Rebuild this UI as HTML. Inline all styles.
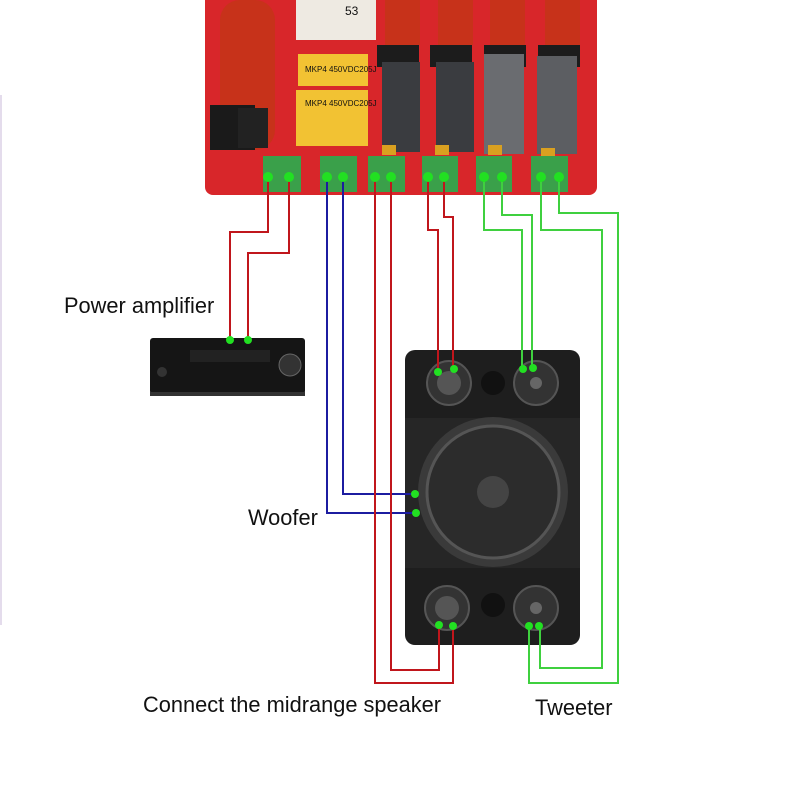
<!DOCTYPE html>
<html><head><style>
html,body{margin:0;padding:0;background:#fff;}
svg{display:block;}
text{font-family:"Liberation Sans",Arial,sans-serif;fill:#111;}
</style></head><body>
<svg width="800" height="800" viewBox="0 0 800 800" xmlns="http://www.w3.org/2000/svg">
<line x1="1" y1="95" x2="1" y2="625" stroke="#c9b8d8" stroke-width="1"/>
<rect x="205" y="-10" width="392" height="205" rx="8" fill="#d8262a"/>
<rect x="220" y="0" width="55" height="150" rx="20" fill="#c7321a"/>
<rect x="210" y="105" width="45" height="45" fill="#1a1a1a"/>
<rect x="238" y="108" width="30" height="40" fill="#222"/>
<rect x="296" y="0" width="80" height="40" fill="#eeeae2"/>
<text x="345" y="15" font-size="12">53</text>
<rect x="298" y="54" width="70" height="32" fill="#f2c233"/>
<rect x="296" y="90" width="72" height="56" fill="#f2c233"/>
<text x="305" y="72" font-size="8" fill="#444">MKP4 450VDC205J</text>
<text x="305" y="106" font-size="8" fill="#444">MKP4 450VDC205J</text>
<rect x="385" y="0" width="35" height="45" fill="#c7321a"/>
<rect x="438" y="0" width="35" height="45" fill="#c7321a"/>
<rect x="490" y="0" width="35" height="45" fill="#c7321a"/>
<rect x="545" y="0" width="35" height="45" fill="#c7321a"/>
<rect x="377" y="45" width="42" height="22" fill="#1c1c1c"/>
<rect x="430" y="45" width="42" height="22" fill="#1c1c1c"/>
<rect x="484" y="45" width="42" height="22" fill="#1c1c1c"/>
<rect x="538" y="45" width="42" height="22" fill="#1c1c1c"/>
<rect x="382" y="62" width="38" height="90" fill="#3a3c40"/>
<rect x="436" y="62" width="38" height="90" fill="#3a3c40"/>
<rect x="484" y="54" width="40" height="100" fill="#6a6c70"/>
<rect x="537" y="56" width="40" height="98" fill="#5c5e62"/>
<rect x="382" y="145" width="14" height="10" fill="#d9a020"/>
<rect x="435" y="145" width="14" height="10" fill="#d9a020"/>
<rect x="488" y="145" width="14" height="10" fill="#d9a020"/>
<rect x="541" y="148" width="14" height="10" fill="#d9a020"/>
<g fill="#3aa04a">
<rect x="263" y="156" width="38" height="36"/>
<rect x="320" y="156" width="37" height="36"/>
<rect x="368" y="156" width="37" height="36"/>
<rect x="422" y="156" width="36" height="36"/>
<rect x="476" y="156" width="36" height="36"/>
<rect x="531" y="156" width="37" height="36"/>
</g>
<rect x="150" y="338" width="155" height="56" rx="3" fill="#151515"/>
<rect x="150" y="392" width="155" height="4" fill="#333"/>
<circle cx="290" cy="365" r="11" fill="#333" stroke="#666"/>
<circle cx="162" cy="372" r="5" fill="#333"/>
<rect x="190" y="350" width="80" height="12" fill="#222"/>
<rect x="405" y="350" width="175" height="295" rx="10" fill="#1e1e1e"/>
<rect x="405" y="418" width="175" height="150" fill="#262626"/>
<circle cx="449" cy="383" r="22" fill="#333" stroke="#555" stroke-width="2"/>
<circle cx="449" cy="383" r="12" fill="#555"/>
<circle cx="536" cy="383" r="22" fill="#333" stroke="#555" stroke-width="2"/>
<circle cx="536" cy="383" r="6" fill="#666"/>
<circle cx="493" cy="383" r="12" fill="#111"/>
<circle cx="493" cy="492" r="75" fill="#3a3a3a"/>
<circle cx="493" cy="492" r="66" fill="#2c2c2c" stroke="#555" stroke-width="3"/>
<circle cx="493" cy="492" r="16" fill="#444"/>
<circle cx="447" cy="608" r="22" fill="#333" stroke="#555" stroke-width="2"/>
<circle cx="447" cy="608" r="12" fill="#555"/>
<circle cx="536" cy="608" r="22" fill="#333" stroke="#555" stroke-width="2"/>
<circle cx="536" cy="608" r="6" fill="#666"/>
<circle cx="493" cy="605" r="12" fill="#111"/>
<g fill="none" stroke-width="2">
<polyline stroke="#c0161c" points="268,177 268,232 230,232 230,340"/>
<polyline stroke="#c0161c" points="289,177 289,253 248,253 248,340"/>
<polyline stroke="#1c1ca0" points="327,177 327,513 416,513"/>
<polyline stroke="#1c1ca0" points="343,177 343,494 415,494"/>
<polyline stroke="#c0161c" points="375,177 375,683 453,683 453,626"/>
<polyline stroke="#c0161c" points="391,177 391,670 439,670 439,625"/>
<polyline stroke="#c0161c" points="428,177 428,230 438,230 438,372"/>
<polyline stroke="#c0161c" points="444,177 444,217 453,217 453,369"/>
<polyline stroke="#3fd03f" points="484,177 484,230 522,230 522,369"/>
<polyline stroke="#3fd03f" points="502,177 502,215 532,215 532,368"/>
<polyline stroke="#3fd03f" points="541,177 541,230 602,230 602,668 540,668 540,626"/>
<polyline stroke="#3fd03f" points="559,177 559,213 618,213 618,683 529,683 529,626"/>
</g>
<g fill="#22e022">
<circle cx="268" cy="177" r="5"/><circle cx="289" cy="177" r="5"/>
<circle cx="327" cy="177" r="5"/><circle cx="343" cy="177" r="5"/>
<circle cx="375" cy="177" r="5"/><circle cx="391" cy="177" r="5"/>
<circle cx="428" cy="177" r="5"/><circle cx="444" cy="177" r="5"/>
<circle cx="484" cy="177" r="5"/><circle cx="502" cy="177" r="5"/>
<circle cx="541" cy="177" r="5"/><circle cx="559" cy="177" r="5"/>
<circle cx="230" cy="340" r="4"/><circle cx="248" cy="340" r="4"/>
<circle cx="415" cy="494" r="4"/><circle cx="416" cy="513" r="4"/>
<circle cx="438" cy="372" r="4"/><circle cx="454" cy="369" r="4"/>
<circle cx="523" cy="369" r="4"/><circle cx="533" cy="368" r="4"/>
<circle cx="439" cy="625" r="4"/><circle cx="453" cy="626" r="4"/>
<circle cx="529" cy="626" r="4"/><circle cx="539" cy="626" r="4"/>
</g>
<text x="64" y="313" font-size="21.8">Power amplifier</text>
<text x="248" y="525" font-size="21.8">Woofer</text>
<text x="143" y="712" font-size="21.8">Connect the midrange speaker</text>
<text x="535" y="715" font-size="21.8">Tweeter</text>
</svg>
</body></html>
